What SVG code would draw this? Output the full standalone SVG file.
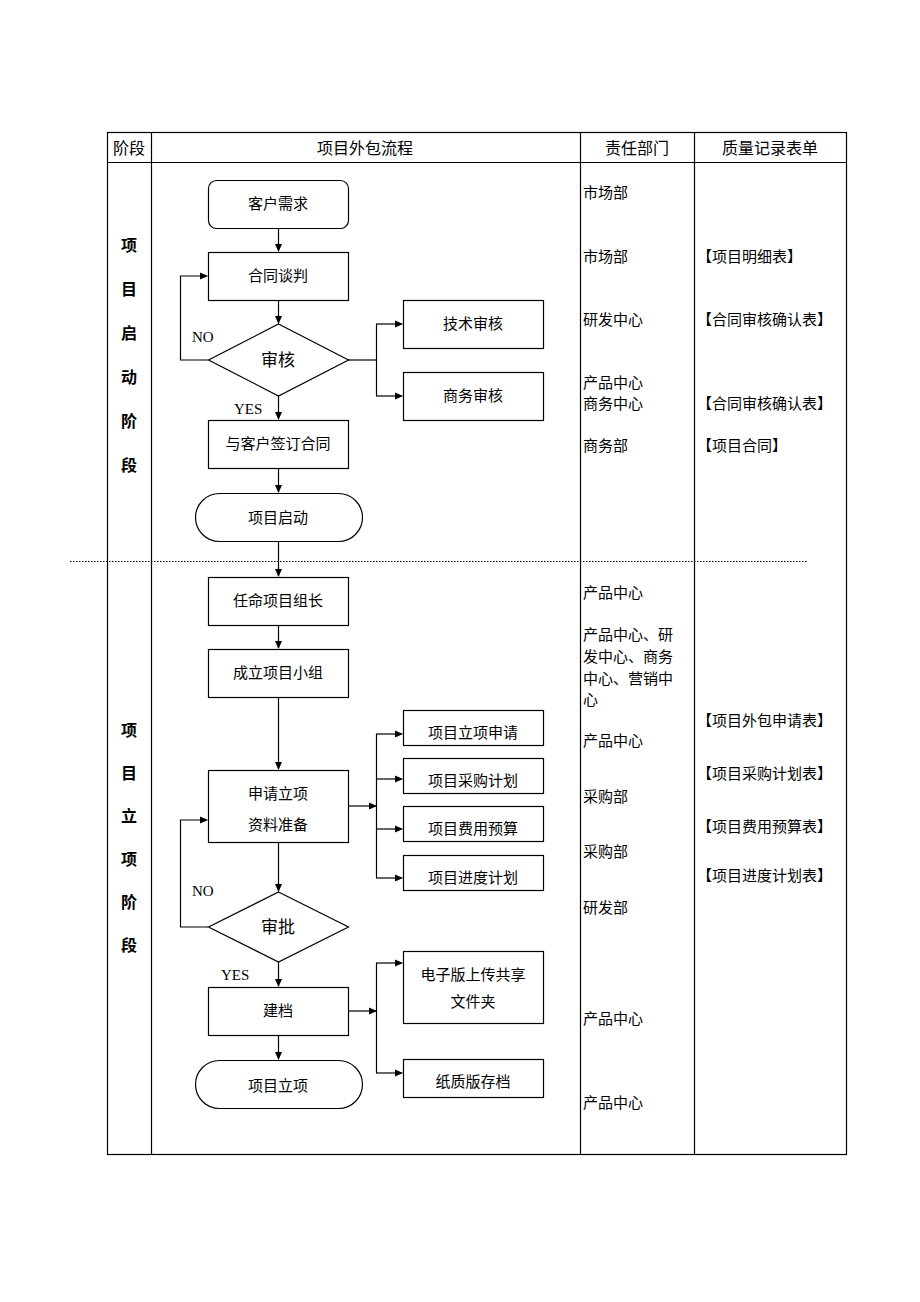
<svg xmlns="http://www.w3.org/2000/svg" width="920" height="1302" viewBox="0 0 920 1302">
<style>
text{font-family:"Liberation Serif","Noto Sans CJK SC",serif;font-size:15px;fill:#000}
.c{text-anchor:middle}
.s{font-size:16px;font-weight:bold}
.b{fill:#fff;stroke:#000;stroke-width:1.2}
.l{fill:none;stroke:#000;stroke-width:1.2}
.a{fill:none;stroke:#000;stroke-width:1.2;marker-end:url(#ar)}
</style>
<defs><marker id="ar" markerWidth="8" markerHeight="8" refX="7" refY="4" orient="auto" markerUnits="userSpaceOnUse"><path d="M0,0.5 L8,4 L0,7.5z" fill="#000"/></marker></defs>
<rect width="920" height="1302" fill="#fff"/>
<g id="table">
<rect x="107.5" y="132.5" width="739" height="1022" class="l"/>
<line x1="107" y1="162.5" x2="846" y2="162.5" class="l"/>
<line x1="151.5" y1="132" x2="151.5" y2="1154" class="l"/>
<line x1="580.5" y1="132" x2="580.5" y2="1154" class="l"/>
<line x1="694.5" y1="132" x2="694.5" y2="1154" class="l"/>
<line x1="70" y1="561.5" x2="808" y2="561.5" stroke="#000" stroke-dasharray="1.5,1.5"/>
<text x="129" y="154" class="c" style="font-size:16px">阶段</text>
<text x="365" y="154" class="c" style="font-size:16px">项目外包流程</text>
<text x="637" y="154" class="c" style="font-size:16px">责任部门</text>
<text x="770" y="154" class="c" style="font-size:16px">质量记录表单</text>
<text x="129" y="251" class="c s">项</text><text x="129" y="295" class="c s">目</text><text x="129" y="339" class="c s">启</text><text x="129" y="383" class="c s">动</text><text x="129" y="427" class="c s">阶</text><text x="129" y="471" class="c s">段</text>
<text x="129" y="736" class="c s">项</text><text x="129" y="779" class="c s">目</text><text x="129" y="822" class="c s">立</text><text x="129" y="865" class="c s">项</text><text x="129" y="908" class="c s">阶</text><text x="129" y="951" class="c s">段</text>
<text x="583" y="198">市场部</text>
<text x="583" y="262">市场部</text>
<text x="583" y="325">研发中心</text>
<text x="583" y="388">产品中心</text>
<text x="583" y="409">商务中心</text>
<text x="583" y="451">商务部</text>
<text x="583" y="598">产品中心</text>
<text x="583" y="640">产品中心、研</text>
<text x="583" y="662">发中心、商务</text>
<text x="583" y="684">中心、营销中</text>
<text x="583" y="705">心</text>
<text x="583" y="746">产品中心</text>
<text x="583" y="802">采购部</text>
<text x="583" y="857">采购部</text>
<text x="583" y="913">研发部</text>
<text x="583" y="1024">产品中心</text>
<text x="583" y="1108">产品中心</text>
<text x="697" y="262">【项目明细表】</text>
<text x="697" y="325">【合同审核确认表】</text>
<text x="697" y="409">【合同审核确认表】</text>
<text x="697" y="451">【项目合同】</text>
<text x="697" y="726">【项目外包申请表】</text>
<text x="697" y="779">【项目采购计划表】</text>
<text x="697" y="832">【项目费用预算表】</text>
<text x="697" y="881">【项目进度计划表】</text>
</g>
<g id="connectors">
<line x1="278.5" y1="228" x2="278.5" y2="251" class="a"/>
<line x1="278.5" y1="300" x2="278.5" y2="323" class="a"/>
<line x1="278.5" y1="396" x2="278.5" y2="419" class="a"/>
<line x1="278.5" y1="468" x2="278.5" y2="492" class="a"/>
<line x1="278.5" y1="541" x2="278.5" y2="576" class="a" stroke-width="2"/>
<line x1="278.5" y1="625" x2="278.5" y2="648" class="a"/>
<line x1="278.5" y1="697" x2="278.5" y2="769" class="a"/>
<line x1="278.5" y1="842" x2="278.5" y2="891" class="a"/>
<line x1="278.5" y1="962" x2="278.5" y2="986" class="a"/>
<line x1="278.5" y1="1035" x2="278.5" y2="1059" class="a"/>
<polyline points="208,360 180.5,360 180.5,276 207,276" class="a"/>
<polyline points="348,360 376.5,360" class="l"/>
<polyline points="376.5,324 376.5,396" class="l"/>
<line x1="376" y1="324" x2="402" y2="324" class="a"/>
<line x1="376" y1="396" x2="402" y2="396" class="a"/>
<line x1="348" y1="806" x2="376" y2="806" class="a"/>
<polyline points="376.5,734 376.5,878" class="l"/>
<line x1="376" y1="734" x2="402" y2="734" class="a"/>
<line x1="376" y1="779" x2="402" y2="779" class="a"/>
<line x1="376" y1="829" x2="402" y2="829" class="a"/>
<line x1="376" y1="878" x2="402" y2="878" class="a"/>
<polyline points="208,927 180.5,927 180.5,820 207,820" class="a"/>
<line x1="348" y1="1011" x2="376" y2="1011" class="a"/>
<polyline points="376.5,963 376.5,1073" class="l"/>
<line x1="376" y1="963" x2="402" y2="963" class="a"/>
<line x1="376" y1="1073" x2="402" y2="1073" class="a"/>
<text x="192" y="342">NO</text>
<text x="234" y="414">YES</text>
<text x="192" y="896">NO</text>
<text x="221" y="980">YES</text>
</g>
<g id="n1"><rect x="208.5" y="180.5" width="140" height="48" rx="8" class="b"/><text x="278" y="209" class="c">客户需求</text></g>
<g id="n2"><rect x="208.5" y="252.5" width="140" height="48" class="b"/><text x="278" y="281" class="c">合同谈判</text></g>
<g id="n3"><polygon points="278.5,324 348.5,360 278.5,396 208.5,360" class="b"/><text x="278" y="366" class="c" style="font-size:17px">审核</text></g>
<g id="n4"><rect x="403.5" y="300.5" width="140" height="48" class="b"/><text x="473" y="329" class="c">技术审核</text></g>
<g id="n5"><rect x="403.5" y="372.5" width="140" height="48" class="b"/><text x="473" y="401" class="c">商务审核</text></g>
<g id="n6"><rect x="208.5" y="420.5" width="140" height="48" class="b"/><text x="278" y="449" class="c">与客户签订合同</text></g>
<g id="n7"><rect x="195.5" y="493.5" width="167" height="48" rx="24" class="b"/><text x="278" y="523" class="c">项目启动</text></g>
<g id="n8"><rect x="208.5" y="577.5" width="140" height="48" class="b"/><text x="278" y="606" class="c">任命项目组长</text></g>
<g id="n9"><rect x="208.5" y="649.5" width="140" height="48" class="b"/><text x="278" y="678" class="c">成立项目小组</text></g>
<g id="n10"><rect x="208.5" y="770.5" width="140" height="72" class="b"/><text x="278" y="799" class="c">申请立项</text><text x="278" y="830" class="c">资料准备</text></g>
<g id="n11"><rect x="403.5" y="710.5" width="140" height="35" class="b"/><text x="473" y="738" class="c">项目立项申请</text></g>
<g id="n12"><rect x="403.5" y="758.5" width="140" height="35" class="b"/><text x="473" y="786" class="c">项目采购计划</text></g>
<g id="n13"><rect x="403.5" y="806.5" width="140" height="35" class="b"/><text x="473" y="834" class="c">项目费用预算</text></g>
<g id="n14"><rect x="403.5" y="855.5" width="140" height="35" class="b"/><text x="473" y="883" class="c">项目进度计划</text></g>
<g id="n15"><polygon points="278.5,892 348.5,927 278.5,962 208.5,927" class="b"/><text x="278" y="933" class="c" style="font-size:17px">审批</text></g>
<g id="n16"><rect x="208.5" y="987.5" width="140" height="48" class="b"/><text x="278" y="1016" class="c">建档</text></g>
<g id="n17"><rect x="403.5" y="951.5" width="140" height="72" class="b"/><text x="473" y="980" class="c">电子版上传共享</text><text x="473" y="1007" class="c">文件夹</text></g>
<g id="n18"><rect x="403.5" y="1059.5" width="140" height="38" class="b"/><text x="473" y="1087" class="c">纸质版存档</text></g>
<g id="n19"><rect x="195.5" y="1060.5" width="167" height="48" rx="24" class="b"/><text x="278" y="1091" class="c">项目立项</text></g>
</svg>
